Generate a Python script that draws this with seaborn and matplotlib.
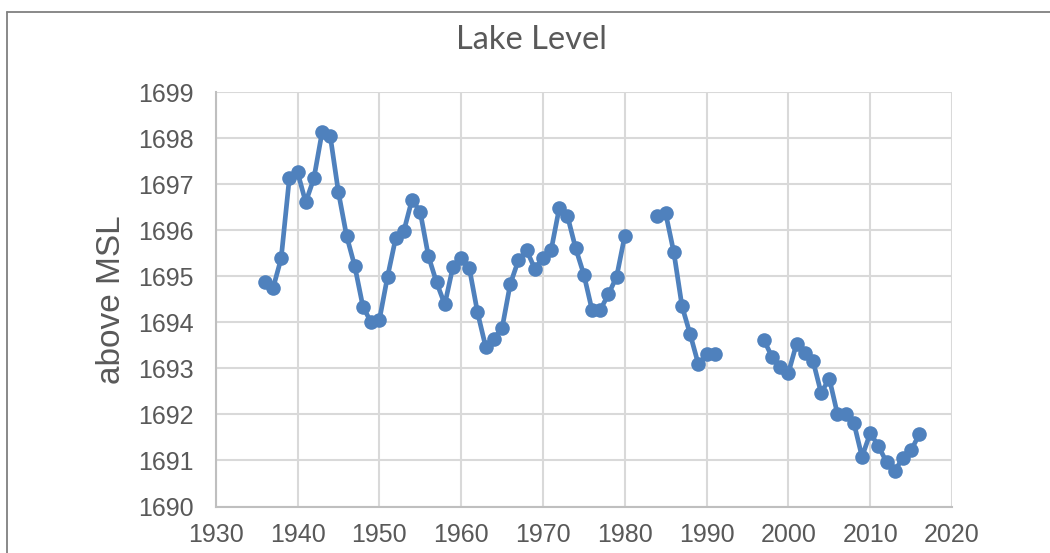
import numpy as np
import pandas as pd
import matplotlib
matplotlib.use("Agg")
import matplotlib.pyplot as plt
import seaborn as sns
from matplotlib.lines import Line2D

# ---- data ----
years = list(range(1936, 2017))
levels = [
    1694.87, 1694.74, 1695.39, 1697.13, 1697.27, 1696.61, 1697.13, 1698.13, 1698.05, 1696.83,  # 1936-1945
    1695.88, 1695.22, 1694.34, 1694.00, 1694.05, 1694.99, 1695.83, 1695.99, 1696.67, 1696.40,  # 1946-1955
    1695.44, 1694.87, 1694.39, 1695.21, 1695.39, 1695.18, 1694.22, 1693.47, 1693.65, 1693.87,  # 1956-1965
    1694.83, 1695.35, 1695.57, 1695.17, 1695.39, 1695.57, 1696.49, 1696.31, 1695.61, 1695.04,  # 1966-1975
    1694.27, 1694.27, 1694.61, 1694.99, 1695.88, np.nan, np.nan, np.nan, 1696.31, 1696.37,    # 1976-1985
    1695.52, 1694.35, 1693.74, 1693.09, 1693.31, 1693.31, np.nan, np.nan, np.nan, np.nan,     # 1986-1995
    np.nan, 1693.62, 1693.25, 1693.03, 1692.90, 1693.54, 1693.33, 1693.17, 1692.47, 1692.78,  # 1996-2005
    1692.01, 1692.01, 1691.82, 1691.08, 1691.59, 1691.32, 1690.96, 1690.77, 1691.06, 1691.22,  # 2006-2015
    1691.57,                                                                                   # 2016
]
title = "Lake Level"
y_label = "above MSL"
x_ticks = list(range(1930, 2021, 10))
y_ticks = list(range(1690, 1700))

# build a table; split into segments at missing years so gaps are kept
df = pd.DataFrame({"year": years, "level": levels})
df["segment"] = df["level"].isna().cumsum()
df = df.dropna()

line_color = "#4f81bd"
text_color = "#595959"
grid_color = "#d9d9d9"

sns.set_style("white")
plt.rcParams["font.family"] = ["Liberation Sans", "DejaVu Sans"]

W, H, DPI = 1050, 553, 100
fig = plt.figure(figsize=(W / DPI, H / DPI), dpi=DPI)
ax = fig.add_axes([215.7 / W, 46.5 / H, (952 - 215.7) / W, (506.5 - 92.3) / H])

sns.lineplot(data=df, x="year", y="level", units="segment", estimator=None,
             color=line_color, linewidth=3.4, marker="o", markersize=10.5,
             markeredgewidth=0, ax=ax, legend=False)

ax.set_xlim(1930, 2020)
ax.set_ylim(1690, 1699)
ax.set_xticks(x_ticks)
ax.set_yticks(y_ticks)
ax.grid(True, color=grid_color, linewidth=1.5)
ax.set_axisbelow(True)
for side in ["top", "right"]:
    ax.spines[side].set_visible(False)
for side in ["left", "bottom"]:
    ax.spines[side].set_color("#bfbfbf")
    ax.spines[side].set_linewidth(1.5)
ax.tick_params(axis="both", length=0, labelsize=18, colors=text_color)
ax.tick_params(axis="x", pad=12)
ax.tick_params(axis="y", pad=16)
ax.set_xlabel("")
ax.set_ylabel(y_label, fontsize=24, color=text_color, labelpad=8)

fig.text(531 / W, 1 - 40 / H, title, ha="center", va="center",
         fontsize=23.5, color=text_color, family=["Lato", "DejaVu Sans"])

# outer chart frame (partially visible)
fig.add_artist(Line2D([7 / W, 7 / W], [0, 1 - 12 / H], transform=fig.transFigure,
                      color="#808080", linewidth=1.3))
fig.add_artist(Line2D([7 / W, 1], [1 - 12 / H, 1 - 12 / H], transform=fig.transFigure,
                      color="#808080", linewidth=1.3))

fig.savefig("out.png", dpi=DPI)
